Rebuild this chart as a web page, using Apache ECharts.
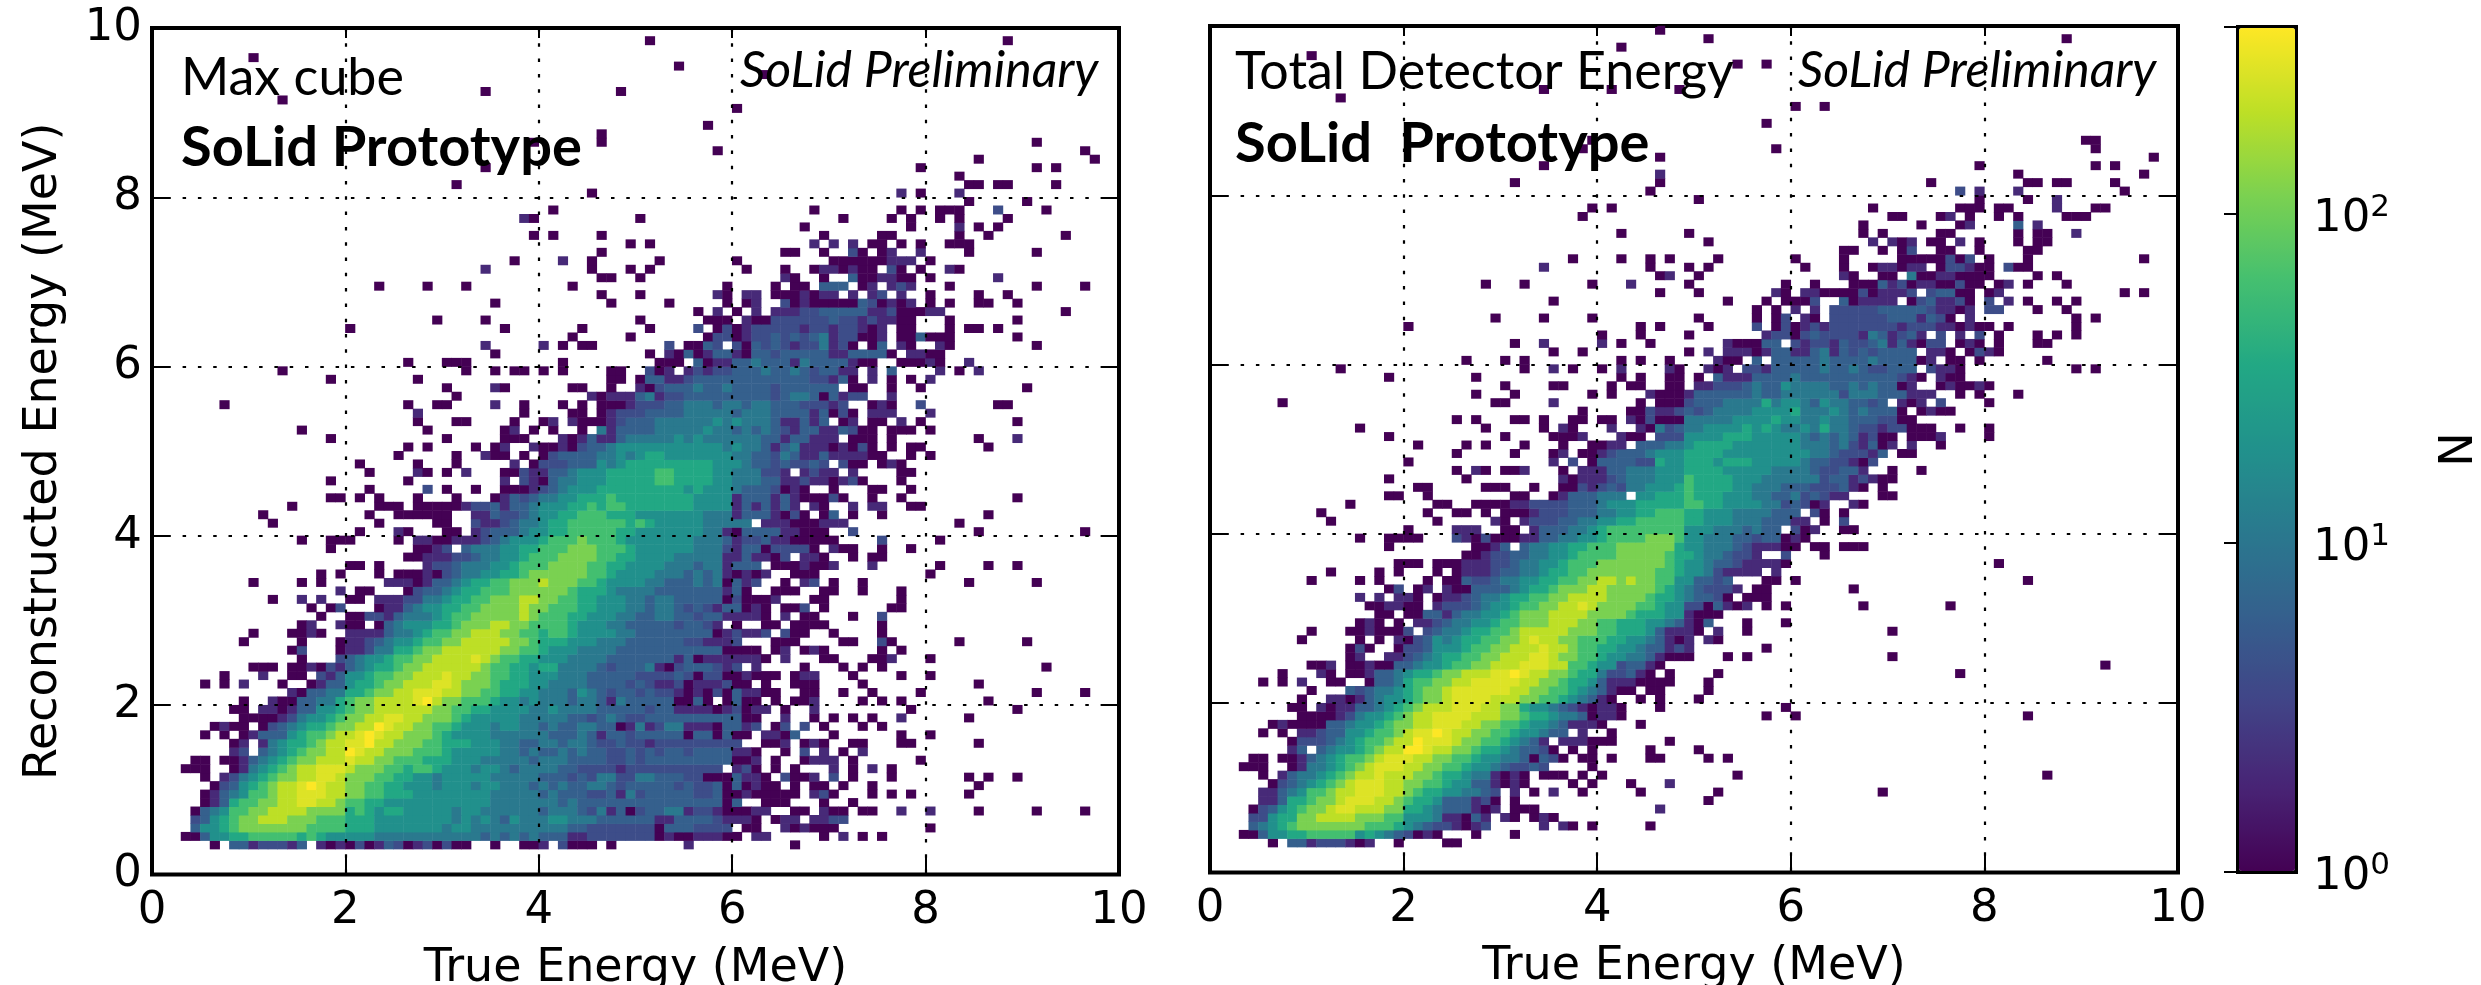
<!DOCTYPE html>
<html><head><meta charset="utf-8"><style>html,body{margin:0;background:#fff}#c{width:2481px;height:985px}</style>
<script src="https://cdn.jsdelivr.net/npm/echarts@6/dist/echarts.min.js"></script></head><body><div id="c"></div>
<script>
// Each row: "<y bin> <start x bin>:<levels> ...". Bins are 0.1 MeV wide. '.' = empty bin.
const levelCount={0:1,1:2,2:4,3:6,4:11,5:19,6:35,7:62,8:113,9:204,b:275,a:370};
const maxCubeRows=[
"3 6:0.33122213.1010201320120200..0..001.2000.0 55:1 66:0",
"4 3:003556677777 15:67655555 23:44444444444 34:343434333 43:11 45:2222222 52:010011100.11 69:0 71:1 73:0 75:0",
"5 4:3556788888 14:88777766 22:6555555545 32:5444444444 42:4332222222 52:03332222 61:00 65:101000 80:0",
"6 4:2356788999 14:888777666 23:555555554 32:5454 36:35444 41:55444333333 52:11333321110 64:011 68:11 70:22",
"7 4:0345778899 14:998888 20:6765665555 30:5455444444 40:344432413023 52:344122100011 66:00 69:100 73:00 77:1 80:1 85:0 91:0 96:0",
"8 5:0136778899 15:bb9987766 24:5555555555 34:54444444 42:3433333333 52:333333303 63:000 69:0 72:0",
"9 5:0134577899 15:bbb998877 24:66655555555 35:4444434333 45:2231423 52:333322300100000 68:120 74:0 76:0 78:0 84:0",
"10 6:023567899 15:bab99887766 26:5554555455 36:4443434334432333 52:3323223030100.0.00 71:0 74:0 85:0",
"11 5:0.12456788 15:99bb988877 25:6655455555 35:44444333232 46:442244 52:333220003110.2001.2.0 76:0 84:0 86:0 89:0",
"12 3:000 8:01 10:45678 15:99bbb988877 26:6776555455 36:4344443322221222 52:2222222.120.0.0 70:1 72:0 74:1 76:0",
"13 4:00 7:001 10:3456788999 20:b9988777666 31:555444443 40:444333322323 52:33333333001.0..0111.0 79:0",
"14 8:12.3456 15:78899ab99888 27:777655555 36:4434334343322323 52:23323333110 65:0 67:2 69:1 71:0 73:1",
"15 8:01.14 13:5667899bba99888 28:77666555 36:4433443443223221 52:222222222 63:001.010 72:00 77:00 85:0",
"16 5:0.0.01 11:3335677899 21:bab9988876 31:5555444444 41:33343133233 52:3330330300.1103 70:0 77:0 80:0",
"17 6:0100.0 12:234566788 21:99ab998877 31:6555455443 41:43344330141 52:24411103312.02.2.0 73:0 75:0",
"18 9:0000 13:1245567 20:8899bb99888 31:765555544444 43:332343223 52:333333333 61:00 65:1 68:0 70:0 72:0 74:0 77:1 84:0",
"19 8:00 11:110133 17:556788999999 29:8877665555 39:4454444333332 52:331111012011 65:0 68:1 78:0 89:0",
"20 9:0 12:100 15:334467889999ba988 32:77765545 40:444344314333 52:330030.0300.0.001 73:0 75:0 77:0 86:0",
"21 14:10334466 22:78899bbb99 32:8877665544 42:4354323323 52:2210102031100 67:00 71:0 74:0 79:0 91:0 96:0",
"22 5:0.0.1 13:0 16:0133566788 26:999bb98887 36:6665544443 46:333232 52:1120111200.0 66:000 73:0 85:0",
"23 7:0 11:1 14:00 17:21355677 25:88999b9988 35:7766555444 45:3333322 52:2232022001000.011 72:0 77:0 80:0",
"24 10:000 14:00102134566 25:7889999998 35:7766566444 45:4323334 52:102333212.1 67:0 71:0 73:0 75:0 92:0",
"25 15:0 19:2345567788 29:9999b987766 40:555444433333 52:331301111110.1 69:00 74:001 80:0",
"26 14:02 19:0112446 26:6788999999 36:8877655544 46:443333 52:3333333 59:0000 64:01 67:010 75:0 77:0",
"27 9:0 15:0 19:01123455677 30:8899999887 40:666555444333 52:333221112 64:000 71:00 75:20 83:0 90:0",
"28 10:0 14:0010 20:1111344567 30:7889998877 40:677655554433 52:333333012112.200 70:0 75:0",
"29 15:01 19:100 23:0 24:34555667888 35:998877776555 47:44333 52:3323321.0 63:00.0000 75:0",
"30 17:0 20:0022134445 30:6778888898 40:777665554433 52:443323311110.1.00 72:0 75:2",
"31 16:0.02 23:0113455667 33:78888988777 44:66555443 52:443232133010.002.0 76:00",
"32 12:0 15:1.1 20:00.1112244 30:5667788899 40:887766555443 52:4433333020001 68:00 77:0",
"33 19:1.00 26:02334566777888888 43:766654444 52:3333333130..000..00 73:0 77:0",
"34 10:0 15:0.0 24:1110133456 34:6778889888 44:77655554 52:43334340312..0.12.0 73:0 84:0 91:0",
"35 17:0.0 23:0.000102344 34:55667888888 45:7765555 52:444343410101..000 80:0",
"36 20:00.0 28:1223444556 38:77788887766555 52:54443441333.0001001 74:1 81:0 86:0 89:0",
"37 26:0011122344556777 42:8888776655 52:55444441131102.110 72:0 74:00",
"38 18:0 27:0012.34445566777 43:888777655 52:55554442133022220.100 75:0 78:0",
"39 15:0 18:000 25:0.1100111234 37:555677787776555 52:5555444312231100000 75:2 81:0",
"40 21:0 25:10 30:00.1233345566 43:777776655 52:555554410333311000 72:2 85:0 96:0",
"41 12:0 23:0 29:00 33:2112344566 43:777777676 52:5555544444.111000111 83:0",
"42 11:0 22:0 25:00000 30:0 33:113223455667 45:7766655 52:5555544413331020.03.0 75:0 86:0",
"43 14:0 23:000 27:00000 32:12231334555667 46:677666 52:666655551313131.10..1.11 78:00",
"44 18:00.0.0 27:0 31:0 35:01323445566676666 52:66665555133313100020 74:0 77:0 89:0",
"45 22:0 28:2.0 33:0 36:0001234555666666 52:6665655543332010..0 74:00 78:0",
"46 18:0 26:0 36:1.21034455566666 52:7766665544433112110120 77:0",
"47 22:0 27:10.0.1 36:0021133455566666 52:77666655444221.1211.1 77:00",
"48 21:0 27:0 31:0 37:1.0222333545666 52:666666555433232232.200.010",
"49 25:0 31:0 34:100 38:0.023333445456 52:655555554433243113111100 78:0 80:0",
"50 26:0.0 33:0.01 39:1001023345555 52:55555554544313411101020.0.00 86:0",
"51 18:0 30:0 36:000 42:1013113444 52:4454544444433133111.000.0 85:0 89:1",
"52 15:0 28:0 36:01.0.0 44:0.413333 52:44444544343432133113200.000.0",
"53 27:0 31:00 37:0 40:01.100012333 52:444444545444311313.01.00.1.0 89:0",
"54 27:1 38:0 43:00.012223 52:333444443444333313020.111 80:1",
"55 7:0 26:0 29:00 35:1 38:0 42:0.0.000122 52:23344434434433322212..010..2 87:00",
"56 31:0 45:1011134 52:1223333333332344303122..1",
"57 30:0 35:10 43:00 47:0 50:10 52:2333433433332333333.00..0..0 90:0",
"58 18:0 27:0 47:00.03 52:31123333333333332213 72:0.1.0.0.1",
"59 13:0 32:0 35:0 37:00 40:0 42:0 47:00 51:201.121223334334323311.1.3 81:1 83:0 85:1",
"60 26:0 30:000 42:0 52:000.3011 60:334333143333100..000 80:10..1",
"61 35:0 51:0.103013310 62:33233333 70:113333 76:0.1100",
"62 34:1 40:1.0.00 53:2.0032.20 62:32321224 70:12 72:0.03.10..10 91:0",
"63 43:0 49:0 57:0220122323234122001.003000 89:0",
"64 20:0 36:0 44:0 51:0 56:2.020122222122122101 77:00 82:0 84:00 87:0",
"65 29:0 34:0 50:0 57:000 61:100 64:2222223221211 77:00 82:0 89:0",
"66 56:0.1.0.1.11 66:1223333311200011 94:0",
"67 35:0 47:0 53:0 59:0.01 65:20100000320101.0.0 85:00 89:0",
"68 46:0 50:0 58:10.11 64:00010 69:11 72:1.12 77:1 80:0 85:0 88:0",
"69 23:0 28:0 32:0 43:0 59:0 64:0 66:00 69:333 73:01 76:121 82:0 91:0 96:0",
"70 46:00 50:0 65:10 69:0 72:300 75:1100 80:0 87:1",
"71 34:1 45:0 49:0 51:0 61:0 65:0 68:011 71:01 73:00 76:20 79:0 82:10",
"72 37:0 42:1 45:0 52:0 60:0 70:000000111 80:0",
"73 46:0 65:00 69:0 72:20 75:01 79:1 84:0 91:0",
"74 49:0 51:0 68:1 70:1 72:1 74:00 77:0 79:0 82:000",
"75 39:0 41:0 46:0 69:0 75:00 83:0 86:0 94:0",
"76 67:0 78:0 83:1 85:0 87:0",
"77 38:10 50:0 71:0 76:0 78:0 81:0 83:0 88:0",
"78 41:0 68:0 77:0 79:0 81:000 87:2 92:0",
"79 84:0 90:0",
"80 45:0 77:1 79:0 83:1",
"81 31:0 84:00 87:00 93:0",
"82 83:0",
"83 34:0 79:0 91:0 93:0",
"84 85:0 97:0",
"85 58:0 96:0",
"86 39:0 46:0 91:0",
"87 46:0",
"88 57:0",
"90 60:0",
"91 13:0",
"92 34:0 48:0",
"94 63:0",
"95 54:0",
"96 10:0",
"98 51:0 88:0"
];
const totalRows=[
"3 6:0.33122210 16:1 19:0 24:00",
"4 3:003556677777 15:565432010 27:0 31:0",
"5 4:3456788888 14:887776543221012 34:1.10 39:0 45:0",
"6 4:2256688999 14:988877555411031 30:10.010",
"7 4:023567889b 14:b999886654333101 31:000 46:1",
"8 5:113667889b 15:bb9987665333120 31:0 51:0",
"9 5:1134577899 15:bbb998766554432 31:1 33:0 35:1 38:0 44:0 52:0 69:0",
"10 6:023456789 15:bbb998877655331010 37:0 39:0 43:0 47:1",
"11 5:0.1344567899 17:b999887665441010 34:000 38:0 40:0 54:0 86:0",
"12 3:000 8:014456789 17:bbb998877655432232 39:0",
"13 4:00 7:00134567789 18:bbb9988776554430320 38:00 41:0 45:00 51:0 53:0",
"14 8:13.345567899 20:aab9988766543320 37:0 39:0 45:0 50:0",
"15 8:0222345677899 21:abbb9887765431.111000 47:0",
"16 5:0.0.112335567789 21:bbab998877655433 38:1 41:0",
"17 6:010000 12:33455678899bbb998877655431110 44:0",
"18 9:0000 13:1245567899bbbb9998876654430110 57:0 60:0 84:0",
"19 8:00 11:1011334567 21:8999bbb998877 32:65543210110 46:0 59:0",
"20 9:0 12:110134556 21:7889bbbb99988 34:7765 38:4310 44:0 46:0 50:0",
"21 10:0 14:32344567889 25:bbbbbb998877 37:65431 42:00 45:00 51:0",
"22 5:0.0.1 12:00 16:03346778899 27:bbbbb9988 36:7665 40:31110000 51:0",
"23 7:0 11:10 14:0013345667 24:88999bbab99 35:8876642231 45:0.0 52:0 77:0",
"24 10:001 14:00100334556 25:7788999bbb99 37:7765523310 92:0",
"25 14:01..112345 24:66778899 32:9bb98877 40:65544 45:31000 53:0 55:0 70:0",
"26 14:020 19:022355567788 31:999b99877 40:6655 44:4331 48:21 57:0",
"27 9:0 15:0.0 19:1023545667788 32:9b9988777 41:66554 46:31 48:01 51:10",
"28 10:0 14:0010002 22:2344566778 32:99999888 40:77666 45:5 46:3111 50:0.1..0 70:0",
"29 15:01 17:0.0 21:11234455 29:6778889 36:998877 42:6 43:66 45:55 47:4 48:3103 55:0 59:0",
"30 17:00.00 22:33134 27:45567888 35:99998888 43:76665 48:51000",
"31 16:0011 20:00.1222 27:345567788 36:99b98888 44:77 46:655 49:220 52:3101.0.0 67:0 76:0",
"32 15:1.1.110.011 26:234456677 35:88999 40:98888 45:7665 49:433 52:20.000",
"33 18:02.01 24:100333345 33:66 35:7888 39:9988888 46:7654 50:32221.00 66:0",
"34 10:0 15:0.0 22:0.003 27:2234 31:45566 36:7788 40:998988 46:7755 50:3323...00.0 84:0",
"35 12:0 17:0.0 23:0.0 26:111 29:2334456677 39:8888888 46:77655 51:421111.1",
"36 19:000 23:000 26:111 29:2234455677 39:78888888 47:7 48:655433 54:211110 81:0",
"37 26:001223344 35:55677778 43:88887 47:76654432 54:221..2...0",
"38 18:0 27:0013.344 35:5566777 42:888888655 51:44432111 59:00.00.000",
"39 15:0 18:0000 25:2102000 32:113344 38:5567777 45:888755 51:4443323 58:3010",
"40 20:0 25:111 30:00 33:133344 39:56777777 47:77 49:555444 55:3433.201..00",
"41 12:0 23:0 29:10 32:1222 36:33 38:445566 44:77777 49:66555 54:444333 60:11.0.2",
"42 11:0 22:0 25:00.0.000 33:1222333 40:445566 46:777 49:66555 54:4444333 62:20.0",
"43 14:0 23:00 27:0000 31:11222233 39:3455 43:566666 49:77 51:665555 57:44 59:23 61:201 66:10",
"44 18:00 22:0 31:00 35:01333 40:444 44:556666 49:7666 53:555 56:4433 60:423211 69:00",
"45 21:00 28:000 33:0 36:00212324 44:455 47:56 49:7 50:66665 55:54443 60:33222 65:310.0",
"46 18:0 26:0 36:101112344 45:4555 49:7 50:66665 55:55 57:444444 63:233121 69:00",
"47 25:0 27:10 30:001 36:0 38:111 41:33444 46:5556666 53:55555 58:44443 63:2233 67:1..0..0",
"48 20:0 35:1.2.03333 44:22655 49:66656 54:66 56:55555 61:43322 66:102",
"49 25:0 31:0 35:01.0012 42:33345 47:55 49:6666 53:55555555 61:54432 66:22 68:13.00",
"50 21:0 26:0.0 32:0 36:0 39:0011 44:33344 49:56666 54:555555 60:5 61:44 63:4342 67:1301 72:1 75:0",
"51 18:0 30:0 35:0001 42:100.2222 49:55556 54:66 56:55555 61:43434 66:3 67:120 70:0 72:000 75:1 80:0",
"52 15:0 28:0 34:0.10 41:1 44:10 46:423 49:44 51:55556 56:5 57:654 60:4 61:54 63:644322 69:122000 77:0 80:0",
"53 25:0.0 31:00.0 37:00 40:00 43:102000 49:44444 54:5555 58:6 59:55 61:44 63:544 66:33322 71:00",
"54 38:0 43:002112 49:32344 54:44 56:5555 60:6 61:444 64:54 66:34 68:3330 73:0 74:100",
"55 7:0 29:00 35:1 44:0 46:000 49:233344 55:44 57:645 60:5 61:435 64:44 66:33 68:23 71:101 75:2 80:0",
"56 27:0 31:0 39:0 41:0 45:1000 49:1333333 56:433 59:44 61:4444 65:244 68:433 71:3111 77:0 79:0 83:0",
"57 30:0 35:00 41:0 43:00 47:00 50:11222 55:343 58:3 59:5444 63:4 64:33 66:434 69:3301 75:0 76:100 79:10",
"58 18:0 27:0 42:0.0 47:00 50:0 52:31113 57:33 59:3433 63:33 65:33 67:3 68:33 70:3210 75:100",
"59 13:0 32:0 35:1.0 40:0.1 47:10 51:10 53:1 55:221 58:333333 63:43 65:343 68:22 70:333 74:2110 89:0 91:0",
"60 26:0 30:0.0 42:0.0 47:0 52:100 56:3 58:33333 63:433 66:33 68:43 70:333 73:01 76:00 79:0 86:0",
"61 35:0 38:0 49:0 51:1 53:1110 57:1331 61:1 62:34 64:13 66:23 68:23 70:33 72:3 74:110 78:021 81:0",
"62 31:0 34:1 40:1.0 45:0 53:1000 57:33 60:21 62:2213 66:2 67:2 68:34 70:1 71:31 73:0 74:22 77:010 81:0 85:00",
"63 40:0 44:0 49:0 57:1220 61:2322 65:22 67:14 69:3 70:1231 75:2 77:1 79:2 81:0 85:0 87:0 89:0",
"64 20:0 44:0.0 51:0 56:2.0 59:2012 63:122 66:222 69:22 71:122 74:211 77:01 79:00 82:0 89:0",
"65 29:0 34:0 39:0 50:0 56:0 58:02 61:10 64:222222 70:333 73:1320 78:1 89:0 91:0",
"66 56:0 58:0 60:1 62:1 64:22222 69:33333 74:2110 78:1 80:22 85:0 88:0",
"67 35:0 53:0 57:0 59:000 62:2 65:30 67:111 70:1 72:0 73:23112 78:0 80:2 82:1 84:0 87:0 89:0",
"68 46:0 50:0 58:10 61:11 63:0000 67:201111 72:2 74:233 77:00 80:01 94:0 96:0",
"69 28:0 32:0 39:0 43:1 49:0 59:0 62:0 66:000 69:3120 73:11 75:00 77:200 81:01 84:0 88:0",
"70 46:01 50:0 65:10 69:00 72:400 75:1 76:1 77:0000 85:0 87:0",
"71 34:1 45:0 49:0 51:0 61:0 65:0 68:01101 72:11 75:0 76:2 77:2 78:100 82:2 83:00",
"72 37:0 42:0 45:0 47:0 52:0 60:0 65:0 71:00000 76:202 78:2 80:0 84:0 96:0",
"73 65:00 69:0 71:0 72:2 75:00 79:0 84:00",
"74 51:0 68:1 70:101 74:00 77:1 79:0 83:0 85:00",
"75 42:0 49:0 67:0 69:0 75:00 83:0 85:00 89:1",
"76 67:0 73:0 77:01 83:3 85:1",
"77 38:0 70:00 75:01 78:0 81:0 83:0 88:000",
"78 39:0 41:0 68:0 77:000 81:00 87:1 91:00",
"79 50:0 79:0 84:0 87:1",
"80 45:0 77:2 79:1 83:1 94:0",
"81 31:0 46:0 74:0 84:00 87:00 93:0",
"82 46:1 83:0 96:0",
"83 34:0 79:0 91:0 93:0",
"84 46:0 97:0",
"85 38:0 58:0 91:0",
"86 39:0 90:00",
"88 57:0",
"90 60:0 63:0",
"91 13:0",
"92 34:0 41:0 48:0",
"95 54:0 57:0",
"96 10:0",
"97 42:0",
"98 51:0 88:0",
"99 46:0"
];
const binLabels=Array.from({length:100},(_,i)=>(i/10).toFixed(1));
const axisTicks={min:0,max:10,interval:2};
const viridis=['#440154','#482475','#414487','#355f8d','#2a788e','#21918c','#22a884','#44bf70','#7ad151','#bddf26','#fde725'];
const maxCount=370;
function decode(rows){
  const m=new Map();
  rows.forEach(r=>{
    const t=r.split(' ');const y=+t[0];
    t.slice(1).forEach(seg=>{
      const [s,lv]=seg.split(':');
      [...lv].forEach((c,k)=>{ if(c!=='.') m.set((+s+k)+'_'+y,[+s+k,y,Math.log10(levelCount[c])]); });
    });
  });
  return [...m.values()];
}
const FS=45, NS=46, black='#000', FF='DejaVu Sans';
const dots={type:[3.5,11.8],color:black,width:2.2};
function frameAxes(gi,showY){
  const base={type:'value',gridIndex:gi,...axisTicks,z:5,silent:true};
  const tick={show:true,inside:true,length:18,lineStyle:{color:black,width:2}};
  return {
    x:[
      {type:'category',gridIndex:gi,data:binLabels,show:false},
      {...base,position:'bottom',axisLine:{show:false},axisTick:tick,splitLine:{show:true,lineStyle:dots},
       axisLabel:{show:true,color:black,fontSize:FS,fontFamily:FF,margin:14,hideOverlap:false,showMinLabel:true,showMaxLabel:true},
       name:'True Energy (MeV)',nameLocation:'middle',nameGap:72,nameTextStyle:{color:black,fontSize:NS,fontFamily:FF}},
      {...base,position:'top',axisLine:{show:false},axisTick:{...tick,length:10},splitLine:{show:false},axisLabel:{show:false}}
    ],
    y:[
      {type:'category',gridIndex:gi,data:binLabels,show:false},
      {...base,position:'left',axisLine:{show:false},axisTick:tick,splitLine:{show:true,lineStyle:dots},
       axisLabel:{show:showY,color:black,fontSize:FS,fontFamily:FF,margin:10,showMinLabel:true,showMaxLabel:true},
       ...(showY?{name:'Reconstructed Energy (MeV)',nameLocation:'middle',nameGap:85,nameTextStyle:{color:black,fontSize:NS,fontFamily:FF}}:{})},
      {...base,position:'right',axisLine:{show:false},axisTick:{...tick,length:16},splitLine:{show:false},axisLabel:{show:false}}
    ]
  };
}
const a=frameAxes(0,true), b=frameAxes(1,false);
const gridBorder={show:true,borderColor:black,borderWidth:4,backgroundColor:'transparent',containLabel:false,outerBoundsMode:'none'};
const xAxes=[...a.x,...b.x,{type:'value',gridIndex:2,show:false,min:0,max:1}];
const yAxes=[...a.y,...b.y,{type:'log',logBase:10,gridIndex:2,position:'right',min:1,max:maxCount,z:8,silent:true,
  axisLine:{show:false},splitLine:{show:false},minorTick:{show:false},
  axisTick:{show:true,inside:true,length:14,lineStyle:{color:black,width:2}},
  axisLabel:{show:true,margin:17,color:black,align:'left',fontFamily:FF,padding:[10,0,0,0],
    formatter:v=>{const l=Math.log10(v),r=Math.round(l);return Math.abs(l-r)<1e-6?`{a|10}{b|${r}}`:'';},
    rich:{a:{fontSize:FS,fontFamily:FF,color:black},b:{fontSize:31,fontFamily:FF,color:black,padding:[0,0,22,0]}}},
  name:'N',nameLocation:'middle',nameRotate:90,nameGap:141,nameTextStyle:{color:black,fontSize:NS,fontFamily:FF}}];
const label=(txt,x,y,font)=>({type:'text',left:x,top:y,z:20,silent:true,
  style:{text:txt,fill:black,font:font+' Lato',textVerticalAlign:'middle'}});
const option={
  animation:false,backgroundColor:'#fff',
  grid:[
    {left:152,top:28,width:967,height:846.5,...gridBorder},
    {left:1210,top:26,width:968,height:846.5,...gridBorder},
    {left:2238,top:27,width:58,height:845,...gridBorder}
  ],
  xAxis:xAxes,yAxis:yAxes,
  visualMap:{type:'continuous',min:0,max:Math.log10(maxCount),seriesIndex:[0,1],inRange:{color:viridis},
    left:2239,top:28,itemWidth:56,itemHeight:843,padding:0,text:null,showLabel:false,calculable:false,hoverLink:false,realtime:false,z:4,
    textStyle:{fontSize:0,color:'transparent'},formatter:()=>''},
  series:[
    {type:'heatmap',xAxisIndex:0,yAxisIndex:0,data:decode(maxCubeRows),progressive:0,silent:true,z:2},
    {type:'heatmap',xAxisIndex:3,yAxisIndex:3,data:decode(totalRows),progressive:0,silent:true,z:2}
  ],
  graphic:[
    label('Max cube',181,52,'normal 52px'),
    label('SoLid Prototype',181,120,'bold 56px'),
    label('SoLid Preliminary',740,46,'italic 50px'),
    label('Total Detector Energy',1235,46,'normal 52px'),
    label('SoLid  Prototype',1235,116,'bold 56px'),
    label('SoLid Preliminary',1798,46,'italic 50px')
  ]
};
echarts.init(document.getElementById('c'),null,{renderer:'canvas'}).setOption(option);
</script></body></html>
